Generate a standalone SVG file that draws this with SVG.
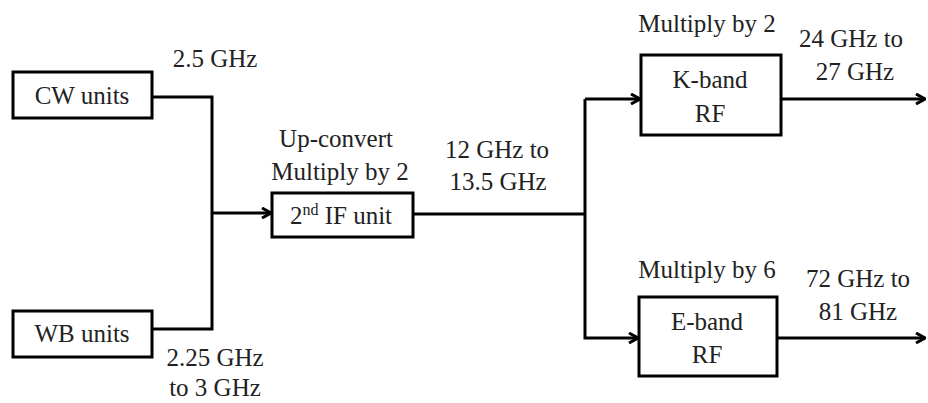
<svg xmlns="http://www.w3.org/2000/svg" width="928" height="403" viewBox="0 0 928 403" font-family="Liberation Serif, DejaVu Serif, serif">
<defs>
<style>
.box{fill:#fff;stroke:#000;stroke-width:3}
.ln{fill:none;stroke:#000;stroke-width:3}
.t{font-family:"Liberation Serif",serif;font-size:25px;fill:#222;text-anchor:middle}
</style>
<marker id="ah" viewBox="0 0 12 12" refX="11" refY="6" markerWidth="12" markerHeight="12" markerUnits="userSpaceOnUse" orient="auto">
<path d="M2,1 L11,6 L2,11" fill="none" stroke="#000" stroke-width="3"/>
</marker>
</defs>
<rect width="928" height="403" fill="#fff"/>
<g id="connectors">
<polyline class="ln" points="152,97 212,97 212,329 152,329"/>
<line class="ln" x1="212" y1="213" x2="271" y2="213" marker-end="url(#ah)"/>
<line class="ln" x1="413" y1="214" x2="585" y2="214"/>
<polyline class="ln" points="585,99 585,338 638,338" marker-end="url(#ah)"/>
<line class="ln" x1="585" y1="99" x2="640" y2="99" marker-end="url(#ah)"/>
<line class="ln" x1="781" y1="99" x2="925" y2="99" marker-end="url(#ah)"/>
<line class="ln" x1="777" y1="338" x2="925" y2="338" marker-end="url(#ah)"/>
<text class="t" x="215" y="67">2.5 GHz</text>
<text class="t" x="215" y="366">2.25 GHz</text>
<text class="t" x="215" y="396">to 3 GHz</text>
<text class="t" x="497" y="158">12 GHz to</text>
<text class="t" x="498" y="190">13.5 GHz</text>
<text class="t" x="851" y="47">24 GHz to</text>
<text class="t" x="855" y="80">27 GHz</text>
<text class="t" x="858" y="287">72 GHz to</text>
<text class="t" x="858" y="320">81 GHz</text>
</g>
<g id="cw">
<rect class="box" x="13" y="72" width="139" height="46"/>
<text class="t" x="82" y="104">CW units</text>
</g>
<g id="wb">
<rect class="box" x="13" y="311" width="139" height="46"/>
<text class="t" x="82" y="342">WB units</text>
</g>
<g id="if2">
<text class="t" x="336" y="147">Up-convert</text>
<text class="t" x="340" y="180">Multiply by 2</text>
<rect class="box" x="272" y="193" width="141" height="44"/>
<text class="t" x="341" y="224">2<tspan font-size="16" dy="-9">nd</tspan><tspan dy="9"> IF unit</tspan></text>
</g>
<g id="kband">
<text class="t" x="707" y="32">Multiply by 2</text>
<rect class="box" x="641" y="55" width="140" height="80"/>
<text class="t" x="710" y="88">K-band</text>
<text class="t" x="710" y="122">RF</text>
</g>
<g id="eband">
<text class="t" x="707" y="278">Multiply by 6</text>
<rect class="box" x="639" y="297" width="138" height="79"/>
<text class="t" x="707" y="330">E-band</text>
<text class="t" x="707" y="363">RF</text>
</g>
</svg>
